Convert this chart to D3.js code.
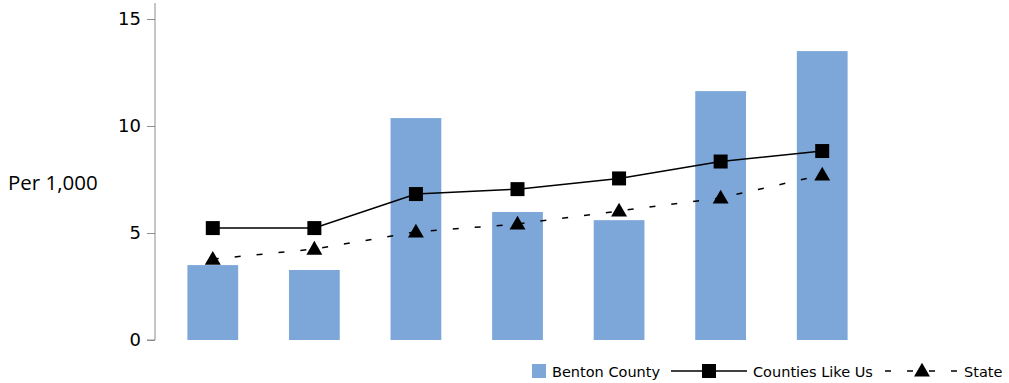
<!DOCTYPE html>
<html>
<head>
<meta charset="utf-8">
<script src="https://cdn.jsdelivr.net/npm/d3@7"></script>
<style>
  body { margin: 0; background: #fff; }
  text { font-family: "DejaVu Sans", Verdana, sans-serif; }
</style>
</head>
<body>
<div id="chart"></div>
<script>
// data
var categories = ["c1", "c2", "c3", "c4", "c5", "c6", "c7"];
var benton = [3.5, 3.27, 10.37, 5.98, 5.6, 11.63, 13.5];
var countiesLikeUs = [5.23, 5.23, 6.82, 7.05, 7.55, 8.34, 8.83];
var state = [3.78, 4.25, 5.05, 5.42, 6.03, 6.64, 7.71];
var yTicks = [0, 5, 10, 15];

var width = 1009, height = 383;

var svg = d3.select("#chart")
  .append("svg")
    .attr("width", width)
    .attr("height", height);

// scales
var x = d3.scaleBand()
  .domain(categories)
  .range([162, 873])
  .paddingInner(0.5)
  .paddingOuter(0.25);

var y = d3.scaleLinear()
  .domain([0, 15])
  .range([340, 19]);

// y axis
var yAxis = svg.append("g")
  .attr("transform", "translate(155,0)")
  .call(d3.axisLeft(y).tickValues(yTicks).tickSize(8).tickPadding(6));
yAxis.select(".domain")
  .attr("d", "M-8," + y(0) + "H0V3")
  .attr("stroke", "#8c8c8c");
yAxis.selectAll(".tick line").attr("stroke", "#8c8c8c");
yAxis.selectAll(".tick text")
  .attr("font-size", 18)
  .attr("font-family", "DejaVu Sans, Verdana, sans-serif")
  .attr("fill", "#000");

// y label
svg.append("text")
  .attr("x", 8)
  .attr("y", 190)
  .attr("font-size", 20.5)
  .style("font-family", "'Open Sans', sans-serif")
  .text("Per 1,000");

// bars
svg.selectAll("rect.bar")
  .data(benton)
  .enter()
  .append("rect")
    .attr("class", "bar")
    .attr("x", function(d, i) { return x(categories[i]); })
    .attr("y", function(d) { return y(d); })
    .attr("width", x.bandwidth())
    .attr("height", function(d) { return y(0) - y(d); })
    .attr("fill", "#7da7d9");

var cx = function(d, i) { return x(categories[i]) + x.bandwidth() / 2; };

// counties like us line
svg.append("path")
  .datum(countiesLikeUs)
  .attr("d", d3.line().x(cx).y(function(d) { return y(d); }))
  .attr("fill", "none")
  .attr("stroke", "#000")
  .attr("stroke-width", 1.5);

// state line (dashed)
svg.append("path")
  .datum(state)
  .attr("d", d3.line().x(cx).y(function(d) { return y(d); }))
  .attr("fill", "none")
  .attr("stroke", "#000")
  .attr("stroke-width", 1.5)
  .attr("stroke-dasharray", "6,16");

var square = d3.symbol().type(d3.symbolSquare).size(196);
var triangle = d3.symbol().type(d3.symbolTriangle).size(110);

svg.selectAll("path.sq")
  .data(countiesLikeUs)
  .enter()
  .append("path")
    .attr("class", "sq")
    .attr("d", square)
    .attr("transform", function(d, i) { return "translate(" + cx(d, i) + "," + y(d) + ")"; })
    .attr("fill", "#000");

svg.selectAll("path.tri")
  .data(state)
  .enter()
  .append("path")
    .attr("class", "tri")
    .attr("d", triangle)
    .attr("transform", function(d, i) { return "translate(" + cx(d, i) + "," + (y(d) + 1) + ")"; })
    .attr("fill", "#000");

// legend
var legend = svg.append("g").attr("font-size", 14.5);
var ly = 371;

legend.append("rect")
  .attr("x", 532).attr("y", ly - 7)
  .attr("width", 14).attr("height", 14)
  .attr("fill", "#7da7d9");
legend.append("text")
  .attr("x", 552).attr("y", ly + 5.5)
  .text("Benton County");

legend.append("line")
  .attr("x1", 671).attr("x2", 747)
  .attr("y1", ly).attr("y2", ly)
  .attr("stroke", "#000").attr("stroke-width", 1.5);
legend.append("path")
  .attr("d", square)
  .attr("transform", "translate(709," + ly + ")");
legend.append("text")
  .attr("x", 753).attr("y", ly + 5.5)
  .text("Counties Like Us");

legend.append("line")
  .attr("x1", 885).attr("x2", 958)
  .attr("y1", ly).attr("y2", ly)
  .attr("stroke", "#000").attr("stroke-width", 1.5)
  .attr("stroke-dasharray", "6,16");
legend.append("path")
  .attr("d", triangle)
  .attr("transform", "translate(922," + (ly + 1) + ")");
legend.append("text")
  .attr("x", 964).attr("y", ly + 5.5)
  .text("State");
</script>
</body>
</html>
